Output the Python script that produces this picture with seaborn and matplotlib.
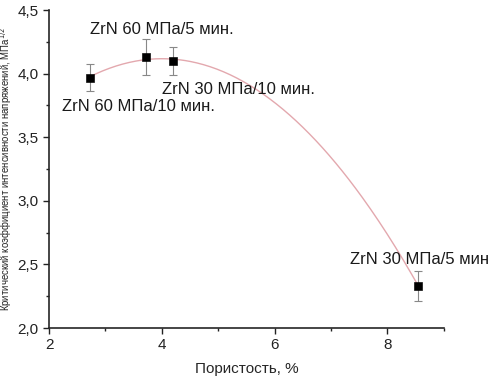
import numpy as np
import matplotlib.pyplot as plt
import seaborn as sns
from matplotlib.ticker import MultipleLocator, FuncFormatter

# porosity, % and critical stress intensity factor
porosity = [2.72, 3.72, 4.2, 8.55]
k1c = [3.97, 4.13, 4.10, 2.33]
k1c_err = [0.11, 0.14, 0.11, 0.12]
labels = ['ZrN 60 МПа/10 мин.', 'ZrN 60 МПа/5 мин.', 'ZrN 30 МПа/10 мин.', 'ZrN 30 МПа/5 мин']
label_pos = [(2.23, 3.71), (2.73, 4.31), (4.0, 3.84), (7.33, 2.50)]

sns.set_style('ticks')
plt.rcParams['font.family'] = ['Liberation Sans', 'DejaVu Sans']

fig = plt.figure(figsize=(4.92, 3.83), dpi=100)
ax = fig.add_axes([0.0996, 0.1436, 0.8024, 0.83])

# quadratic fit through the points
coef = np.polyfit(porosity, k1c, 2)
xf = np.linspace(min(porosity), max(porosity), 200)
sns.lineplot(x=xf, y=np.polyval(coef, xf), ax=ax, color='#e3a8ae', linewidth=1)

ax.errorbar(porosity, k1c, yerr=k1c_err, fmt='none', ecolor='#888888',
            elinewidth=0.8, capsize=3, capthick=0.8)
sns.scatterplot(x=porosity, y=k1c, ax=ax, marker='s', color='black', s=30,
                edgecolor='black', zorder=5)

for lab, (tx, ty) in zip(labels, label_pos):
    ax.text(tx, ty, lab, fontsize=12, color='#1a1a1a')

ax.set_xlim(2, 9)
ax.set_ylim(2.0, 4.5)
ax.xaxis.set_major_locator(MultipleLocator(2))
ax.xaxis.set_minor_locator(MultipleLocator(1))
ax.yaxis.set_major_locator(MultipleLocator(0.5))
ax.yaxis.set_minor_locator(MultipleLocator(0.25))
ax.yaxis.set_major_formatter(FuncFormatter(lambda v, p: f'{v:.1f}'.replace('.', ',')))
ax.tick_params(which='major', direction='out', length=4, width=1, labelsize=11, colors='#222222')
ax.tick_params(which='minor', direction='out', length=2.5, width=1, colors='#222222')
for s in ['left', 'bottom']:
    ax.spines[s].set_linewidth(1.2)
sns.despine(ax=ax)

ax.set_xlabel('Пористость, %', fontsize=11, labelpad=7)
fig.text(0.013, 0.558, 'Критический коэффициент интенсивности напряжений, МПа$^{1/2}$',
         fontsize=6.9, rotation=90, ha='center', va='center', color='#222222')

fig.savefig('out.png', dpi=100)
